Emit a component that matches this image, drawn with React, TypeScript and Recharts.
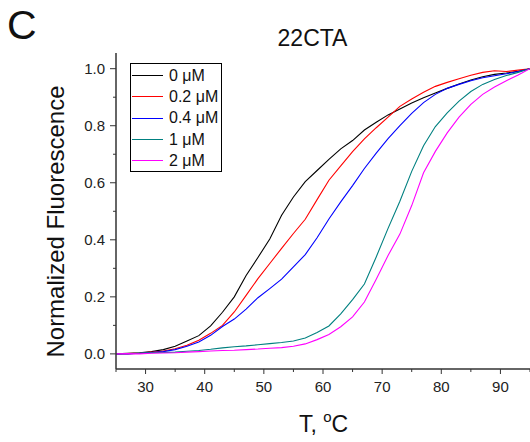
import { Legend, Line, LineChart, XAxis, YAxis } from 'recharts'

// temperature grid, °C
const TEMPS = [
  25, 27, 29, 31, 33, 35, 37, 39, 41, 43, 45, 47, 49, 51, 53, 55, 57, 59,
  61, 63, 65, 67, 69, 71, 73, 75, 77, 79, 81, 83, 85, 87, 89, 91, 93, 95,
]

// normalized fluorescence per ligand concentration
const F_0 = [
  0, 0.002, 0.004, 0.008, 0.015, 0.027, 0.045, 0.064, 0.098, 0.146, 0.2, 0.275,
  0.338, 0.403, 0.486, 0.55, 0.604, 0.643, 0.682, 0.719, 0.748, 0.785, 0.812, 0.838,
  0.859, 0.88, 0.898, 0.915, 0.931, 0.946, 0.96, 0.972, 0.98, 0.985, 0.991, 1.0,
]
const F_02 = [
  0, 0.001, 0.003, 0.006, 0.01, 0.018, 0.03, 0.048, 0.072, 0.1, 0.147, 0.205,
  0.264, 0.317, 0.37, 0.422, 0.472, 0.541, 0.609, 0.659, 0.709, 0.754, 0.793, 0.83,
  0.868, 0.894, 0.917, 0.938, 0.952, 0.965, 0.977, 0.987, 0.993, 0.99, 0.995, 1.0,
]
const F_04 = [
  0, 0, 0.002, 0.005, 0.008, 0.015, 0.027, 0.042, 0.065, 0.096, 0.122, 0.157,
  0.197, 0.229, 0.262, 0.305, 0.348, 0.407, 0.473, 0.533, 0.59, 0.65, 0.704, 0.755,
  0.8, 0.843, 0.881, 0.91, 0.931, 0.945, 0.958, 0.968, 0.975, 0.982, 0.99, 1.0,
]
const F_1 = [
  0, 0, 0.003, 0.004, 0.005, 0.006, 0.009, 0.012, 0.016, 0.021, 0.025, 0.028,
  0.032, 0.036, 0.04, 0.045, 0.056, 0.075, 0.098, 0.14, 0.19, 0.245, 0.34, 0.44,
  0.535, 0.64, 0.73, 0.797, 0.845, 0.886, 0.92, 0.945, 0.962, 0.976, 0.987, 1.0,
]
const F_2 = [
  0, 0.001, 0, 0.002, 0.003, 0.004, 0.006, 0.008, 0.01, 0.012, 0.013, 0.015,
  0.017, 0.02, 0.022, 0.027, 0.035, 0.05, 0.068, 0.095, 0.13, 0.182, 0.262, 0.345,
  0.42, 0.52, 0.635, 0.71, 0.775, 0.83, 0.875, 0.91, 0.936, 0.958, 0.978, 1.0,
]

const SERIES = [
  { key: 'c0', name: '0 μM', color: '#000000', values: F_0 },
  { key: 'c02', name: '0.2 μM', color: '#ff0000', values: F_02 },
  { key: 'c04', name: '0.4 μM', color: '#0000ff', values: F_04 },
  { key: 'c1', name: '1 μM', color: '#008080', values: F_1 },
  { key: 'c2', name: '2 μM', color: '#ff00ff', values: F_2 },
]

const X_TICKS = [25, 30, 35, 40, 45, 50, 55, 60, 65, 70, 75, 80, 85, 90, 95]
const Y_TICKS = [0, 0.1, 0.2, 0.3, 0.4, 0.5, 0.6, 0.7, 0.8, 0.9, 1.0]

const FONT = '"Liberation Sans", Arial, sans-serif'
const AXIS = '#333333'

const data = TEMPS.map((t, i) => {
  const row: Record<string, number> = { t }
  SERIES.forEach((s) => (row[s.key] = s.values[i]))
  return row
})

function BottomTick({ x, y, payload }: any) {
  const major = payload.value % 10 === 0
  return (
    <g>
      <line x1={x} x2={x} y1={y} y2={y + (major ? 5 : 3)} stroke={AXIS} />
      {major && (
        <text x={x} y={y + 23} textAnchor="middle" fontSize={15} fontFamily={FONT} fill="#222">
          {payload.value}
        </text>
      )}
    </g>
  )
}

function TopTick({ x, y }: any) {
  return <line x1={x} x2={x} y1={y} y2={y + 3} stroke={AXIS} />
}

function LeftTick({ x, y, payload }: any) {
  const major = Math.round(payload.value * 10) % 2 === 0
  return (
    <g>
      <line x1={x} x2={x - (major ? 6 : 3)} y1={y} y2={y} stroke={AXIS} />
      {major && (
        <text x={x - 11} y={y + 5} textAnchor="end" fontSize={15} fontFamily={FONT} fill="#222">
          {payload.value.toFixed(1)}
        </text>
      )}
    </g>
  )
}

function LegendBox({ payload }: any) {
  return (
    <div
      style={{
        width: 90,
        height: 106,
        border: '1px solid #000',
        background: '#fff',
        paddingTop: 1,
        fontFamily: FONT,
        fontSize: 16,
        color: '#111',
      }}
    >
      {(payload || []).map((p: any) => (
        <div key={p.value} style={{ display: 'flex', alignItems: 'center', height: 21.3 }}>
          <div style={{ width: 31, height: 1, background: p.color, marginLeft: 1 }} />
          <span style={{ marginLeft: 6, whiteSpace: 'nowrap' }}>{p.value}</span>
        </div>
      ))}
    </div>
  )
}

export default function App() {
  return (
    <div style={{ position: 'absolute', left: 0, top: 0, width: 530, height: 442, background: '#fff' }}>
      <LineChart width={530} height={442} data={data} margin={{ top: 53, right: 0, bottom: 43, left: 0 }}>
        <XAxis
          dataKey="t"
          type="number"
          domain={[25, 95]}
          ticks={X_TICKS}
          interval={0}
          height={30}
          tickSize={0}
          tickMargin={0}
          tickLine={false}
          tick={BottomTick}
          axisLine={{ stroke: AXIS, strokeWidth: 1.5 }}
        />
        <XAxis
          xAxisId="top"
          orientation="top"
          dataKey="t"
          type="number"
          domain={[25, 95]}
          ticks={X_TICKS}
          interval={0}
          height={0}
          tickSize={0}
          tickMargin={0}
          tickLine={false}
          tick={TopTick}
          axisLine={{ stroke: AXIS, strokeWidth: 1.5 }}
        />
        <YAxis
          type="number"
          domain={[-0.053, 1.055]}
          ticks={Y_TICKS}
          interval={0}
          width={116}
          tickSize={0}
          tickMargin={0}
          tickLine={false}
          tick={LeftTick}
          axisLine={{ stroke: AXIS, strokeWidth: 1.5 }}
        />
        <Legend
          layout="vertical"
          align="center"
          verticalAlign="middle"
          content={<LegendBox />}
          wrapperStyle={{ left: 130, top: 63, width: 92, height: 108 }}
        />
        {SERIES.map((s) => (
          <Line
            key={s.key}
            dataKey={s.key}
            name={s.name}
            stroke={s.color}
            strokeWidth={1.1}
            dot={false}
            type="linear"
            isAnimationActive={false}
          />
        ))}
      </LineChart>
      <svg
        width={530}
        height={442}
        style={{ position: 'absolute', left: 0, top: 0, pointerEvents: 'none' }}
        fontFamily={FONT}
        fill="#111"
      >
        <text x={7} y={39} fontSize={41}>
          C
        </text>
        <text x={312.5} y={46} fontSize={23} textAnchor="middle">
          22CTA
        </text>
        <text x={64} y={221.5} fontSize={24} textAnchor="middle" transform="rotate(-90 64 221.5)">
          Normalized Fluorescence
        </text>
        <text x={323.5} y={432} fontSize={23} textAnchor="middle">
          T,{' '}
          <tspan fontSize={15} dy={-10}>
            o
          </tspan>
          <tspan dy={10}>C</tspan>
        </text>
      </svg>
    </div>
  )
}
